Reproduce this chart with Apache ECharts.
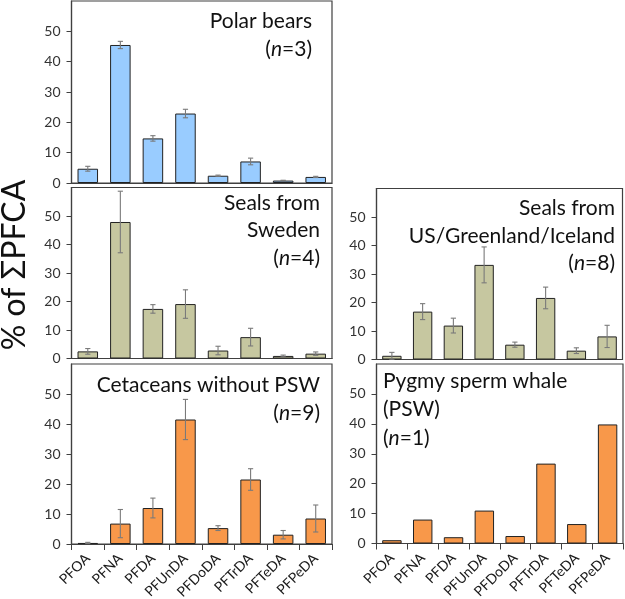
<!DOCTYPE html>
<html>
<head>
<meta charset="utf-8">
<script src="https://cdn.jsdelivr.net/npm/echarts@6/dist/echarts.min.js"></script>
<style>html,body{margin:0;padding:0;background:#fff}#c{width:625px;height:599px}</style>
</head>
<body>
<div id="c"></div>
<script>
const categories = ['PFOA','PFNA','PFDA','PFUnDA','PFDoDA','PFTrDA','PFTeDA','PFPeDA'];
const polarBears = [4.7, 45.5, 14.7, 22.9, 2.4, 7.1, 0.8, 2.0];
const polarBearsErr = [0.8, 1.2, 0.9, 1.4, 0.2, 1.1, 0.1, 0.2];
const sealsSweden = [2.5, 47.9, 17.4, 19.1, 2.8, 7.5, 0.9, 1.7];
const sealsSwedenErr = [1.0, 10.8, 1.5, 5.0, 1.5, 3.1, 0.3, 0.6];
const sealsUS = [1.3, 16.8, 11.9, 33.2, 5.2, 21.6, 3.1, 8.1];
const sealsUSErr = [1.2, 2.8, 2.6, 6.3, 0.9, 3.8, 1.0, 3.9];
const cetaceans = [0.35, 6.8, 12.0, 41.5, 5.3, 21.5, 3.1, 8.5];
const cetaceansErr = [0.2, 4.7, 3.3, 6.7, 0.8, 3.6, 1.4, 4.5];
const psw = [1.1, 8.0, 2.1, 11.0, 2.5, 26.7, 6.5, 39.8];
const yTicks = [0, 10, 20, 30, 40, 50];

const BLUE = '#99CCFF', OLIVE = '#C6C7A0', ORANGE = '#F8984A';
const FONT = 'Lato, "Noto Sans", sans-serif';
const AXC = '#404040';

const grids = [
  {left: 71.5, top: 1, width: 260.5, height: 182},
  {left: 71.5, top: 187.5, width: 260.5, height: 171},
  {left: 376.5, top: 188.5, width: 246, height: 171},
  {left: 71.5, top: 364, width: 260.5, height: 180},
  {left: 376.5, top: 364, width: 246.5, height: 179.5}
];
const panels = [
  {vals: polarBears, errs: polarBearsErr, color: BLUE, labels: false},
  {vals: sealsSweden, errs: sealsSwedenErr, color: OLIVE, labels: false},
  {vals: sealsUS, errs: sealsUSErr, color: OLIVE, labels: false},
  {vals: cetaceans, errs: cetaceansErr, color: ORANGE, labels: true},
  {vals: psw, errs: null, color: ORANGE, labels: true}
];

const option = {
  animation: false,
  backgroundColor: '#fff',
  grid: grids.map(g => Object.assign({show: true, borderColor: AXC, borderWidth: 1.2,
    backgroundColor: 'transparent', containLabel: false, outerBoundsMode: 'none'}, g)),
  xAxis: panels.map((p, i) => ({
    type: 'category', gridIndex: i, data: categories,
    axisLine: {show: true, lineStyle: {color: AXC, width: 1.2}},
    axisTick: {show: p.labels, length: 6, lineStyle: {color: AXC}},
    axisLabel: {show: p.labels, rotate: 45, fontFamily: FONT, fontSize: 14, color: '#1a1a1a', margin: 12}
  })),
  yAxis: panels.map((p, i) => ({
    type: 'value', gridIndex: i, min: 0, max: 60, interval: 10,
    splitLine: {show: false},
    axisLine: {show: true, lineStyle: {color: AXC, width: 1.2}},
    axisTick: {show: true, length: 5, lineStyle: {color: AXC}, customValues: yTicks},
    axisLabel: {fontFamily: FONT, fontSize: 14, color: '#333', margin: 11, customValues: yTicks,
      formatter: v => (v >= 60 ? '' : String(v))}
  })),
  series: [],
  graphic: []
};

panels.forEach((p, i) => {
  option.series.push({
    type: 'bar', xAxisIndex: i, yAxisIndex: i, data: p.vals,
    barCategoryGap: '37%',
    itemStyle: {color: p.color, borderColor: '#222', borderWidth: 1}
  });
  if (p.errs) {
    option.series.push({
      type: 'custom', xAxisIndex: i, yAxisIndex: i, z: 5,
      data: p.vals.map((v, k) => [k, v, p.errs[k]]),
      renderItem: function (params, api) {
        const x = api.value(0), v = api.value(1), e = api.value(2);
        const hi = api.coord([x, v + e]);
        const lo = api.coord([x, Math.max(0, v - e)]);
        const w = 2.6;
        const st = {stroke: '#7a7a7a', lineWidth: 1.1};
        return {type: 'group', children: [
          {type: 'line', shape: {x1: hi[0], y1: hi[1], x2: lo[0], y2: lo[1]}, style: st},
          {type: 'line', shape: {x1: hi[0] - w, y1: hi[1], x2: hi[0] + w, y2: hi[1]}, style: st},
          {type: 'line', shape: {x1: lo[0] - w, y1: lo[1], x2: lo[0] + w, y2: lo[1]}, style: st}
        ]};
      }
    });
  }
});

function txt(text, x, y, align) {
  return {type: 'text', z: 10, style: {
    text: text, x: x, y: y, align: align, verticalAlign: 'middle',
    fontFamily: FONT, fontSize: 21, fill: '#111',
    rich: {i: {fontFamily: FONT, fontSize: 21, fontStyle: 'italic', fill: '#111'}}
  }};
}
option.graphic = [
  txt('Polar bears', 312, 21, 'right'),
  txt('({i|n}=3)', 312, 49.5, 'right'),
  txt('Seals from', 320, 203, 'right'),
  txt('Sweden', 320, 230.5, 'right'),
  txt('({i|n}=4)', 320, 258, 'right'),
  txt('Seals from', 615, 208.5, 'right'),
  txt('US/Greenland/Iceland', 615, 236, 'right'),
  txt('({i|n}=8)', 615, 263.5, 'right'),
  txt('Cetaceans without PSW', 320, 385, 'right'),
  txt('({i|n}=9)', 320, 413.5, 'right'),
  txt('Pygmy sperm whale', 383, 381, 'left'),
  txt('(PSW)', 383, 409.5, 'left'),
  txt('({i|n}=1)', 383, 438, 'left'),
  {type: 'text', z: 10, x: 15, y: 265, rotation: Math.PI / 2,
    style: {text: '% of ΣPFCA', x: 0, y: 0, align: 'center', verticalAlign: 'middle',
      fontFamily: FONT, fontSize: 32, fill: '#111'}}
];

const chart = echarts.init(document.getElementById('c'), null, {renderer: 'canvas'});
chart.setOption(option);
</script>
</body>
</html>
